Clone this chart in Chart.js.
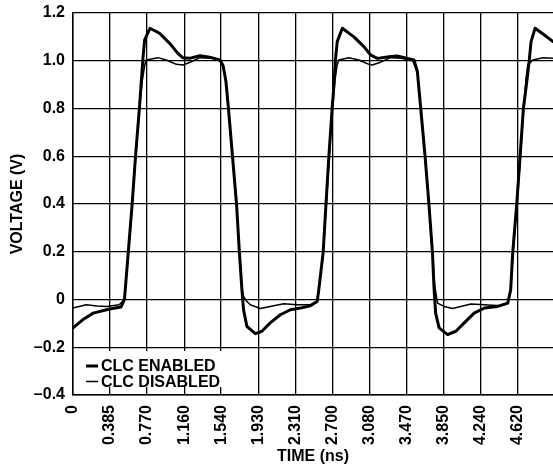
<!DOCTYPE html>
<html><head><meta charset="utf-8">
<script src="https://cdn.jsdelivr.net/npm/chart.js@4/dist/chart.umd.min.js"></script>
<style>html,body{margin:0;padding:0;background:#fff;}</style>
</head><body>
<canvas id="c" width="553" height="467"></canvas>
<script>
const xTickLabels = ['0','0.385','0.770','1.160','1.540','1.930','2.310','2.700','3.080','3.470','3.850','4.240','4.620'];
const yTickValues = [-0.4,-0.2,0,0.2,0.4,0.6,0.8,1.0,1.2];
const yTickLabels = ['\u20130.4','\u20130.2','0','0.2','0.4','0.6','0.8','1.0','1.2'];
const seriesNames = ['CLC ENABLED','CLC DISABLED'];

const enabledTime = [0.00,0.10,0.21,0.38,0.50,0.535,0.574,0.615,0.650,0.690,0.710,0.727,0.745,0.800,0.900,1.005,1.090,1.140,1.210,1.320,1.420,1.527,1.560,1.590,1.616,1.658,1.700,1.730,1.756,1.773,1.808,1.895,1.964,2.050,2.155,2.260,2.364,2.468,2.538,2.552,2.600,2.630,2.660,2.694,2.715,2.730,2.747,2.800,2.920,3.024,3.094,3.164,3.285,3.372,3.477,3.545,3.580,3.615,3.660,3.700,3.737,3.754,3.770,3.806,3.894,3.980,4.067,4.170,4.275,4.415,4.520,4.550,4.571,4.613,4.648,4.682,4.720,4.745,4.762,4.804,4.900,4.990];
const enabledVolt = [-0.119,-0.085,-0.057,-0.040,-0.031,0.000,0.195,0.400,0.600,0.800,0.913,1.010,1.087,1.136,1.115,1.073,1.031,1.013,1.010,1.021,1.015,1.003,0.980,0.913,0.800,0.600,0.400,0.195,0.041,-0.043,-0.113,-0.143,-0.133,-0.098,-0.064,-0.043,-0.036,-0.026,-0.008,0.030,0.195,0.400,0.600,0.800,0.910,1.010,1.080,1.136,1.100,1.059,1.024,1.010,1.017,1.020,1.010,1.003,0.954,0.800,0.600,0.400,0.195,0.041,-0.057,-0.119,-0.147,-0.133,-0.098,-0.057,-0.036,-0.029,-0.015,0.041,0.195,0.400,0.600,0.800,0.920,1.010,1.080,1.136,1.108,1.080];

const disabledTime = [0.00,0.136,0.25,0.35,0.48,0.535,0.576,0.617,0.652,0.692,0.718,0.745,0.760,0.883,0.970,1.074,1.144,1.230,1.320,1.457,1.527,1.560,1.590,1.616,1.658,1.700,1.730,1.756,1.773,1.800,1.843,1.947,2.050,2.190,2.330,2.468,2.538,2.552,2.602,2.634,2.664,2.698,2.722,2.745,2.763,2.868,2.972,3.076,3.110,3.198,3.300,3.410,3.530,3.580,3.615,3.660,3.700,3.737,3.760,3.790,3.858,3.946,4.030,4.137,4.275,4.450,4.520,4.550,4.575,4.617,4.652,4.686,4.710,4.728,4.780,4.884,4.990];
const disabledVolt = [-0.036,-0.022,-0.027,-0.029,-0.022,0.000,0.195,0.400,0.600,0.800,0.910,0.980,1.003,1.013,1.003,0.985,0.982,0.996,1.013,1.010,1.000,0.980,0.913,0.800,0.600,0.400,0.195,0.050,0.013,-0.005,-0.022,-0.038,-0.029,-0.018,-0.022,-0.022,-0.008,0.030,0.195,0.400,0.600,0.800,0.915,0.980,1.003,1.013,1.003,0.985,0.982,0.994,1.013,1.010,1.000,0.954,0.800,0.600,0.400,0.195,0.060,-0.015,-0.029,-0.038,-0.029,-0.019,-0.022,-0.026,-0.015,0.041,0.195,0.400,0.600,0.800,0.927,0.982,1.003,1.013,1.010];

const FONT = {family: '"Liberation Sans", Arial, Helvetica, sans-serif', weight: 'bold', size: 16};

const insideLegend = {
  id: 'insideLegend',
  afterDatasetsDraw(chart) {
    const ctx = chart.ctx, a = chart.chartArea;
    ctx.save();
    ctx.fillStyle = '#fff';
    ctx.fillRect(a.left + 1, a.bottom - 44, 152, 36);
    ctx.font = `${FONT.weight} ${FONT.size}px ${FONT.family}`;
    ctx.textBaseline = 'middle';
    ctx.fillStyle = '#000';
    chart.data.datasets.forEach((ds, i) => {
      const y = a.bottom - 29 + i * 15.5;
      ctx.strokeStyle = '#000';
      ctx.lineWidth = ds.borderWidth;
      ctx.beginPath();
      ctx.moveTo(a.left + 13, y);
      ctx.lineTo(a.left + 25, y);
      ctx.stroke();
      ctx.fillText(ds.label, a.left + 28, y + 1);
    });
    ctx.restore();
  }
};

new Chart(document.getElementById('c'), {
  type: 'line',
  data: {
    datasets: [
      {label: seriesNames[0], data: enabledTime.map((t, i) => ({x: t, y: enabledVolt[i]})), borderColor: '#000', borderWidth: 3, pointRadius: 0, tension: 0, borderJoinStyle: 'round', borderCapStyle: 'round', fill: false},
      {label: seriesNames[1], data: disabledTime.map((t, i) => ({x: t, y: disabledVolt[i]})), borderColor: '#000', borderWidth: 1.5, pointRadius: 0, tension: 0, borderJoinStyle: 'round', fill: false}
    ]
  },
  options: {
    responsive: false,
    animation: false,
    devicePixelRatio: 1,
    layout: {padding: {top: 13, right: 0, bottom: 0, left: 0}},
    plugins: {legend: {display: false}, tooltip: {enabled: false}},
    scales: {
      x: {
        type: 'linear', min: 0, max: 4.99,
        afterBuildTicks: s => { s.ticks = xTickLabels.map(l => ({value: parseFloat(l)})); },
        afterFit: s => { s.height = 72; s.paddingLeft = 0; s.paddingRight = 0; },
        ticks: {callback: (v, i) => xTickLabels[i], minRotation: 90, maxRotation: 90, autoSkip: false, font: FONT, color: '#000', padding: 10},
        grid: {color: '#000', lineWidth: 1.3, drawTicks: false},
        border: {display: true, color: '#000', width: 1.5},
        title: {display: true, text: 'TIME (ns)', font: FONT, color: '#000', padding: {top: 0, bottom: 1}}
      },
      y: {
        type: 'linear', min: -0.4, max: 1.2,
        afterBuildTicks: s => { s.ticks = yTickValues.map(v => ({value: v})); },
        afterFit: s => { s.width = 73; s.paddingTop = 0; s.paddingBottom = 0; },
        ticks: {callback: (v, i) => yTickLabels[i], font: FONT, color: '#000', padding: 8},
        grid: {color: '#000', lineWidth: 1.3, drawTicks: false},
        border: {display: true, color: '#000', width: 1.5},
        title: {display: true, text: 'VOLTAGE (V)', font: FONT, color: '#000', padding: {top: 8, bottom: 0}}
      }
    }
  },
  plugins: [insideLegend]
});
</script>
</body></html>
